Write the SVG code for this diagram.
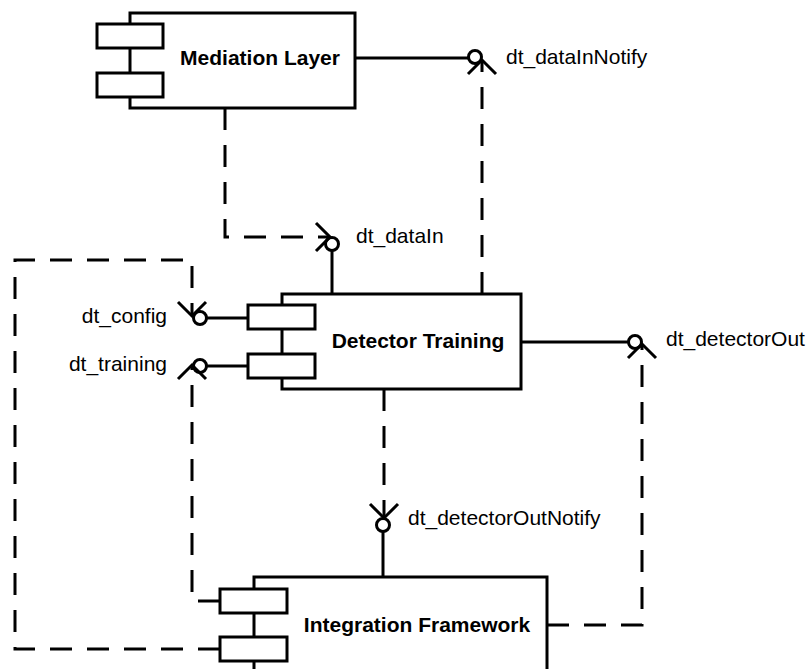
<svg xmlns="http://www.w3.org/2000/svg" width="811" height="669" viewBox="0 0 811 669">
  <style>
    .box { fill: #fff; stroke: #000; stroke-width: 3; }
    .port { fill: #fff; stroke: #000; stroke-width: 3; }
    .solid { fill: none; stroke: #000; stroke-width: 3; }
    .ball { fill: #fff; stroke: #000; stroke-width: 3; }
    .dep { fill: none; stroke: #000; stroke-width: 3; stroke-dasharray: 22 15; marker-end: url(#open); }
    .title { font-family: "Liberation Sans", Arial, sans-serif; font-size: 21px; font-weight: bold; text-anchor: middle; }
    .lbl { font-family: "Liberation Sans", Arial, sans-serif; font-size: 21px; }
  </style>
  <defs>
    <marker id="open" markerUnits="userSpaceOnUse" markerWidth="40" markerHeight="40" refX="0" refY="0" viewBox="-20 -20 40 40" orient="auto" overflow="visible">
      <path d="M-14,-14 L0,0 L-14,14" fill="none" stroke="#000" stroke-width="3"/>
    </marker>
  </defs>
  <rect width="811" height="669" fill="#fff"/>

  <!-- dependency connectors and interface stems -->
  <g id="connectors">
    <!-- Mediation Layer provides dt_dataInNotify -->
    <line class="solid" x1="355" y1="58" x2="468" y2="58"/>
    <circle class="ball" cx="475" cy="57" r="6.5"/>
    <path class="dep" d="M482,294 L482,60"/>

    <!-- Detector Training provides dt_dataIn -->
    <line class="solid" x1="332" y1="250" x2="332" y2="294"/>
    <circle class="ball" cx="332" cy="244" r="6.5"/>
    <path class="dep" d="M225,108 L225,237 L330,237"/>

    <!-- dt_config -->
    <line class="solid" x1="206" y1="318" x2="248" y2="318"/>
    <circle class="ball" cx="200" cy="318" r="6.5"/>
    <path class="dep" d="M220,649 L15,649 L15,260 L192,260 L192,316"/>

    <!-- dt_training -->
    <line class="solid" x1="206" y1="366" x2="248" y2="366"/>
    <circle class="ball" cx="200" cy="366" r="6.5"/>
    <path class="dep" d="M220,601 L192,601 L192,365"/>

    <!-- dt_detectorOut -->
    <line class="solid" x1="521" y1="342" x2="628" y2="342"/>
    <circle class="ball" cx="635" cy="342" r="6.5"/>
    <path class="dep" d="M547,625 L642,625 L642,344"/>

    <!-- dt_detectorOutNotify -->
    <line class="solid" x1="383" y1="531" x2="383" y2="577"/>
    <circle class="ball" cx="383" cy="525" r="6.5"/>
    <path class="dep" d="M384,389 L384,518"/>
  </g>

  <g id="mediation-layer">
    <rect class="box" x="130" y="13" width="225" height="95"/>
    <rect class="port" x="97" y="24" width="66" height="24"/>
    <rect class="port" x="97" y="73" width="66" height="24"/>
    <text class="title" x="260" y="65">Mediation Layer</text>
  </g>

  <g id="detector-training">
    <rect class="box" x="282" y="294" width="239" height="95"/>
    <rect class="port" x="248" y="305" width="67" height="24"/>
    <rect class="port" x="248" y="354" width="67" height="24"/>
    <text class="title" x="418" y="348">Detector Training</text>
  </g>

  <g id="integration-framework">
    <rect class="box" x="254" y="577" width="293" height="130"/>
    <rect class="port" x="220" y="589" width="67" height="24"/>
    <rect class="port" x="220" y="637" width="67" height="24"/>
    <text class="title" x="417" y="632">Integration Framework</text>
  </g>

  <g id="labels">
    <text class="lbl" x="506" y="64">dt_dataInNotify</text>
    <text class="lbl" x="356" y="243">dt_dataIn</text>
    <text class="lbl" x="167" y="323" text-anchor="end">dt_config</text>
    <text class="lbl" x="167" y="371" text-anchor="end">dt_training</text>
    <text class="lbl" x="666" y="346">dt_detectorOut</text>
    <text class="lbl" x="408" y="525">dt_detectorOutNotify</text>
  </g>
</svg>
